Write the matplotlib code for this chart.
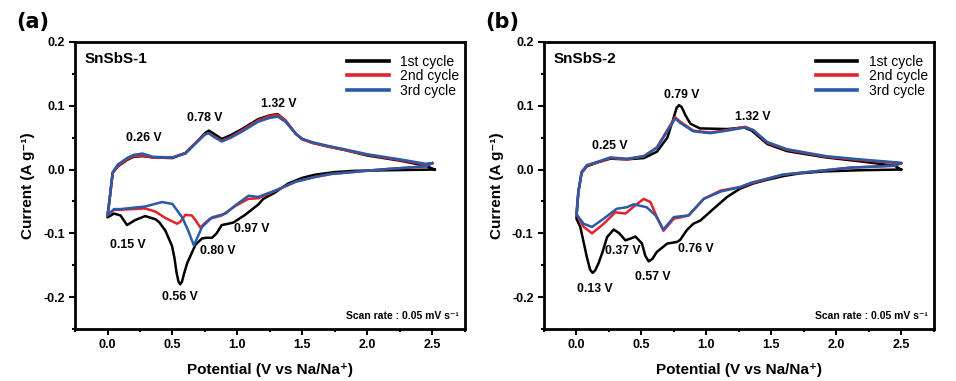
import matplotlib
matplotlib.use("Agg")
import matplotlib.pyplot as plt
from matplotlib.ticker import MultipleLocator

plt.rcParams['font.family'] = ['Liberation Sans', 'DejaVu Sans']

# ---------------- panel (a) SnSbS-1 ----------------
a1_v = [2.52, 2.2, 1.9, 1.75, 1.6, 1.5, 1.39, 1.29, 1.2, 1.16, 1.06, 0.97, 0.93, 0.88, 0.84, 0.805,
        0.76, 0.728, 0.677, 0.613, 0.59, 0.573, 0.56, 0.547, 0.532, 0.515, 0.497, 0.446, 0.40,
        0.37, 0.29, 0.215, 0.15, 0.1, 0.05, 0.0,
        0.02, 0.04, 0.08, 0.15, 0.2, 0.27, 0.35, 0.5, 0.6, 0.7, 0.75, 0.78, 0.82, 0.88, 0.95,
        1.04, 1.16, 1.25, 1.31, 1.37, 1.45, 1.5, 1.575, 1.7, 1.82, 2.0, 2.25, 2.45, 2.52]
a1_i = [0.0, -0.001, -0.002, -0.004, -0.008, -0.013, -0.022, -0.036, -0.046, -0.055, -0.071, -0.083,
        -0.085, -0.087, -0.1, -0.107, -0.107, -0.108, -0.118, -0.147, -0.163, -0.176, -0.18,
        -0.176, -0.162, -0.138, -0.12, -0.096, -0.083, -0.078, -0.073, -0.079, -0.087, -0.072,
        -0.069, -0.075,
        -0.04, -0.005, 0.005, 0.015, 0.02, 0.021, 0.019, 0.018, 0.026, 0.046, 0.057, 0.061, 0.056,
        0.048, 0.054, 0.064, 0.079, 0.085, 0.087, 0.077, 0.056, 0.048, 0.042, 0.036, 0.031, 0.022,
        0.014, 0.006, 0.0]

a2_v = [2.5, 2.45, 2.1, 1.72, 1.59, 1.45, 1.33, 1.24, 1.16, 1.085, 0.985, 0.88, 0.79, 0.745, 0.715,
        0.68, 0.65, 0.6, 0.56, 0.536, 0.446, 0.37, 0.29, 0.1, 0.05, 0.0,
        0.02, 0.04, 0.08, 0.15, 0.2, 0.27, 0.35, 0.5, 0.6, 0.7, 0.75, 0.78, 0.82, 0.88, 0.95,
        1.04, 1.16, 1.25, 1.31, 1.37, 1.45, 1.5, 1.575, 1.7, 1.82, 2.0, 2.25, 2.45, 2.5]
a2_i = [0.01, 0.005, 0.0, -0.007, -0.012, -0.019, -0.030, -0.038, -0.045, -0.046, -0.057, -0.072,
        -0.077, -0.085, -0.091, -0.08, -0.072, -0.071, -0.082, -0.085, -0.076, -0.066, -0.061,
        -0.063, -0.063, -0.072,
        -0.04, -0.005, 0.006, 0.016, 0.021, 0.022, 0.019, 0.019, 0.026, 0.046, 0.055, 0.057, 0.052,
        0.045, 0.051, 0.062, 0.077, 0.084, 0.086, 0.077, 0.056, 0.047, 0.042, 0.036, 0.031, 0.023,
        0.015, 0.008, 0.01]

a3_v = [2.5, 2.45, 2.1, 1.72, 1.59, 1.45, 1.29, 1.16, 1.087, 0.985, 0.91, 0.805, 0.728, 0.665,
        0.62, 0.575, 0.5, 0.42, 0.29, 0.1, 0.05, 0.0,
        0.02, 0.04, 0.08, 0.15, 0.2, 0.27, 0.35, 0.5, 0.6, 0.7, 0.75, 0.78, 0.82, 0.88, 0.95,
        1.04, 1.16, 1.25, 1.31, 1.37, 1.45, 1.5, 1.575, 1.7, 1.82, 2.0, 2.25, 2.45, 2.5]
a3_i = [0.01, 0.005, 0.0, -0.007, -0.012, -0.019, -0.033, -0.043, -0.041, -0.056, -0.069, -0.075,
        -0.09, -0.119, -0.095, -0.075, -0.054, -0.051, -0.058, -0.062, -0.062, -0.072,
        -0.04, -0.004, 0.008, 0.018, 0.023, 0.025, 0.02, 0.019, 0.025, 0.045, 0.055, 0.057, 0.051,
        0.044, 0.05, 0.06, 0.075, 0.081, 0.083, 0.075, 0.056, 0.048, 0.043, 0.037, 0.032, 0.024,
        0.016, 0.009, 0.01]

# ---------------- panel (b) SnSbS-2 ----------------
b1_v = [2.5, 2.2, 1.9, 1.72, 1.6, 1.47, 1.36, 1.26, 1.16, 1.056, 0.954, 0.90, 0.85, 0.80, 0.775,
        0.70, 0.62, 0.585, 0.556, 0.53, 0.505, 0.454, 0.42, 0.377, 0.33, 0.287, 0.236, 0.2, 0.17,
        0.145, 0.125, 0.105, 0.08, 0.03, 0.0,
        0.015, 0.04, 0.08, 0.16, 0.26, 0.39, 0.52, 0.62, 0.70, 0.75, 0.772, 0.79, 0.81, 0.84,
        0.877, 0.95, 1.16, 1.29, 1.35, 1.47, 1.62, 1.92, 2.18, 2.45, 2.5]
b1_i = [0.0, -0.001, -0.003, -0.006, -0.01, -0.016, -0.022, -0.030, -0.043, -0.0615, -0.08, -0.085,
        -0.095, -0.11, -0.1135, -0.116, -0.129, -0.14, -0.144, -0.135, -0.116, -0.105, -0.108,
        -0.111, -0.1, -0.094, -0.106, -0.13, -0.147, -0.158, -0.162, -0.157, -0.137, -0.09, -0.077,
        -0.035, -0.005, 0.005, 0.011, 0.017, 0.016, 0.018, 0.028, 0.05, 0.082, 0.097, 0.101,
        0.098, 0.085, 0.072, 0.0645, 0.0635, 0.066, 0.061, 0.040, 0.029, 0.019, 0.013, 0.006, 0.0]

b2_v = [2.5, 2.45, 2.11, 1.59, 1.34, 1.26, 1.11, 0.98, 0.864, 0.80, 0.75, 0.67, 0.61, 0.57, 0.518,
        0.454, 0.377, 0.30, 0.21, 0.12, 0.056, 0.0,
        0.015, 0.04, 0.08, 0.16, 0.26, 0.39, 0.52, 0.62, 0.70, 0.76, 0.80, 0.90, 1.03, 1.16, 1.30,
        1.36, 1.47, 1.62, 1.92, 2.18, 2.48, 2.5]
b2_i = [0.01, 0.006, 0.003, -0.008, -0.022, -0.0275, -0.033, -0.046, -0.072, -0.075, -0.077,
        -0.096, -0.07, -0.051, -0.046, -0.056, -0.069, -0.067, -0.085, -0.1, -0.09, -0.07,
        -0.035, -0.005, 0.006, 0.011, 0.018, 0.016, 0.021, 0.035, 0.062, 0.082, 0.075, 0.061,
        0.058, 0.062, 0.067, 0.062, 0.042, 0.031, 0.02, 0.015, 0.01, 0.01]

b3_v = [2.5, 2.45, 2.11, 1.59, 1.34, 1.26, 1.11, 0.98, 0.864, 0.75, 0.67, 0.61, 0.54, 0.44, 0.39,
        0.31, 0.21, 0.12, 0.056, 0.0,
        0.015, 0.04, 0.08, 0.16, 0.26, 0.39, 0.52, 0.62, 0.70, 0.76, 0.80, 0.90, 1.03, 1.16, 1.30,
        1.36, 1.47, 1.62, 1.92, 2.18, 2.48, 2.5]
b3_i = [0.01, 0.006, 0.003, -0.008, -0.021, -0.0275, -0.0345, -0.046, -0.072, -0.0745, -0.094,
        -0.072, -0.059, -0.0545, -0.059, -0.0615, -0.077, -0.09, -0.085, -0.07,
        -0.035, -0.004, 0.007, 0.012, 0.019, 0.017, 0.021, 0.034, 0.06, 0.080, 0.073, 0.060,
        0.057, 0.061, 0.066, 0.062, 0.043, 0.032, 0.021, 0.016, 0.011, 0.01]

cycle_labels = ['1st cycle', '2nd cycle', '3rd cycle']
colors = ['black', '#e3232c', '#2a5aa8']

a_peaks = [('0.26 V', 0.277, 0.050), ('0.78 V', 0.746, 0.081), ('1.32 V', 1.317, 0.103),
           ('0.15 V', 0.154, -0.119), ('0.56 V', 0.56, -0.200), ('0.80 V', 0.85, -0.127),
           ('0.97 V', 1.11, -0.094)]
b_peaks = [('0.25 V', 0.254, 0.0375), ('0.79 V', 0.81, 0.117), ('1.32 V', 1.355, 0.083),
           ('0.13 V', 0.138, -0.1875), ('0.37 V', 0.36, -0.128), ('0.57 V', 0.59, -0.168),
           ('0.76 V', 0.923, -0.125)]

panels = [
    ('(a)', 'SnSbS-1', [(a1_v, a1_i), (a2_v, a2_i), (a3_v, a3_i)], a_peaks, 0.0785),
    ('(b)', 'SnSbS-2', [(b1_v, b1_i), (b2_v, b2_i), (b3_v, b3_i)], b_peaks, 0.569),
]

fig = plt.figure(figsize=(9.56, 3.81), dpi=100)

for tag, name, cycles, peaks, left in panels:
    ax = fig.add_axes([left, 0.1365, 0.4075, 0.7533])
    for (v, i), lab, c in zip(cycles, cycle_labels, colors):
        ax.plot(v, i, color=c, lw=1.8, label=lab, solid_joinstyle='round')
    ax.xaxis.set_major_locator(MultipleLocator(0.5))
    ax.xaxis.set_minor_locator(MultipleLocator(0.25))
    ax.yaxis.set_major_locator(MultipleLocator(0.1))
    ax.yaxis.set_minor_locator(MultipleLocator(0.05))
    ax.tick_params(which='both', direction='out', width=1.5, top=False, right=False)
    ax.tick_params(which='major', length=4, labelsize=9)
    ax.tick_params(which='minor', length=2.5)
    ax.set_xlim(-0.25, 2.75)
    ax.set_ylim(-0.25, 0.2)
    ax.set_xticks([0.0, 0.5, 1.0, 1.5, 2.0, 2.5])
    ax.set_xticklabels(['0.0', '0.5', '1.0', '1.5', '2.0', '2.5'], fontweight='bold')
    ax.set_yticks([-0.2, -0.1, 0.0, 0.1, 0.2])
    ax.set_yticklabels(['-0.2', '-0.1', '0.0', '0.1', '0.2'], fontweight='bold')
    ax.set_xlim(-0.25, 2.75)
    ax.set_ylim(-0.25, 0.2)
    for sp in ax.spines.values():
        sp.set_linewidth(2)

    ax.set_xlabel('Potential (V vs Na/Na\u207a)', fontsize=11, fontweight='bold', labelpad=8)
    ax.set_ylabel('Current (A g\u207b\u00b9)', fontsize=11, fontweight='bold', labelpad=6)

    ax.text(0.025, 0.94, name, transform=ax.transAxes, fontsize=11, fontweight='bold',
            va='center', ha='left')
    ax.text(-0.15, 1.07, tag, transform=ax.transAxes, fontsize=15, fontweight='bold',
            family=['DejaVu Sans'], va='center', ha='left')
    for txt, x, y in peaks:
        ax.text(x, y, txt, fontsize=8.8, fontweight='bold', ha='center', va='center')
    ax.text(0.985, 0.045, 'Scan rate : 0.05 mV s\u207b\u00b9', transform=ax.transAxes,
            fontsize=7.5, fontweight='bold', ha='right', va='center')

    leg = ax.legend(loc='upper right', bbox_to_anchor=(1.01, 0.99), frameon=False, fontsize=10,
                    handlelength=3.0, labelspacing=0.05, handletextpad=0.8, borderaxespad=0.3)
    for line in leg.get_lines():
        line.set_linewidth(2.6)

fig.savefig('out.png', dpi=100)
